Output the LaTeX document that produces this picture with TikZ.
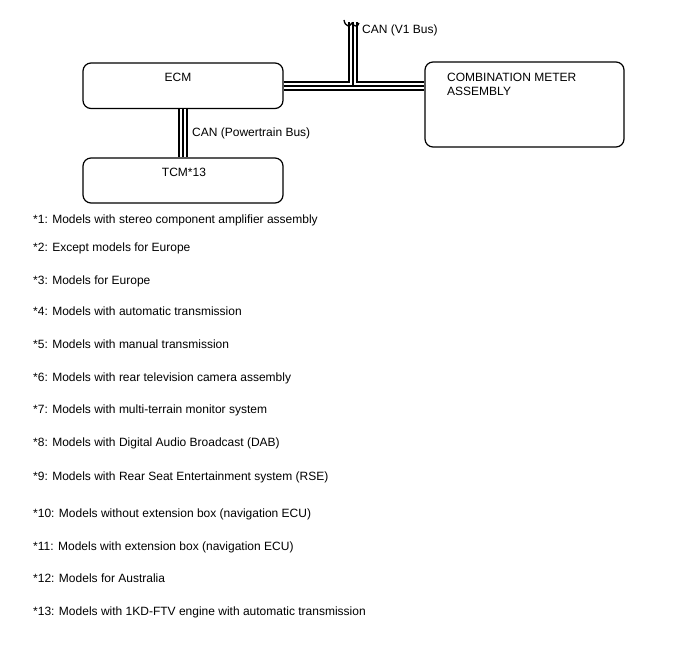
\documentclass[tikz,border=0pt]{standalone}
\usepackage{fontspec}
\setmainfont{Liberation Sans}
\begin{document}
\begin{tikzpicture}[x=1pt,y=-1pt,
  every node/.style={font=\fontsize{12pt}{14pt}\selectfont},
  box/.style={draw, line width=1.2pt, rounded corners=8pt, inner sep=0pt},
  lbl/.style={anchor=base west, inner sep=0pt},
  ctr/.style={anchor=base, inner sep=0pt},
  busA/.style={line width=10pt, black},
  busB/.style={line width=6.2pt, white},
  busC/.style={line width=1.6pt, black}]
\useasboundingbox (0,0) rectangle (688,658);

% boxes
\node[box, minimum width=200pt, minimum height=45.5pt] (ecm) at (183,85.75) {};
\node[box, minimum width=199pt, minimum height=85pt] (cma) at (524.5,104.5) {};
\node[box, minimum width=200pt, minimum height=45pt] (tcm) at (183,180.5) {};

\node[ctr] (ecmt) at (178,82) {ECM};
\node[lbl] (cmat1) at (447,82) {COMBINATION METER};
\node[lbl] (cmat2) at (447,95.5) {ASSEMBLY};
\node[ctr] (tcmt) at (184,176) {TCM*13};

% bus coordinates
\coordinate (jn) at (353,85.75);
\coordinate (v1top) at (353,22);
\coordinate (hend) at (ecm.east -| cma.west);

% buses: layered black / white / black
\draw[busA] (ecm.east) -- (hend);
\draw[busA] (v1top) -- (jn);
\draw[busA] (ecm.south) -- (tcm.north);
\draw[busB] (ecm.east) -- (hend);
\draw[busB] (v1top) -- (jn);
\draw[busB] (ecm.south) -- (tcm.north);
\draw[busC] (ecm.east) -- (hend);
\draw[busC] (v1top) -- (jn);
\draw[busC] (ecm.south) -- (tcm.north);

% break mark at the top of the V1 bus
\draw[line width=1.3pt] ([xshift=-9pt,yshift=2pt]v1top)
  .. controls ([xshift=-8pt,yshift=-5pt]v1top) and ([xshift=-3pt,yshift=-5pt]v1top) .. ([xshift=-1pt,yshift=-1pt]v1top)
  .. controls ([xshift=1pt,yshift=-5pt]v1top) and ([xshift=5pt,yshift=-5pt]v1top) .. ([xshift=6pt,yshift=-1pt]v1top);

\node[lbl] (canv1) at (362,34) {CAN (V1 Bus)};
\node[lbl] (canpt) at (192,136) {CAN (Powertrain Bus)};

% notes
\foreach \yy/\txt [count=\i] in {
  223/{*1: Models with stereo component amplifier assembly},
  251/{*2: Except models for Europe},
  284.5/{*3: Models for Europe},
  315/{*4: Models with automatic transmission},
  348/{*5: Models with manual transmission},
  381/{*6: Models with rear television camera assembly},
  413/{*7: Models with multi-terrain monitor system},
  446/{*8: Models with Digital Audio Broadcast (DAB)},
  480/{*9: Models with Rear Seat Entertainment system (RSE)},
  517/{*10: Models without extension box (navigation ECU)},
  550/{*11: Models with extension box (navigation ECU)},
  582/{*12: Models for Australia},
  615/{*13: Models with 1KD-FTV engine with automatic transmission}} {
  \node[lbl] (note\i) at (33,\yy) {\txt};
}
\end{tikzpicture}
\end{document}
